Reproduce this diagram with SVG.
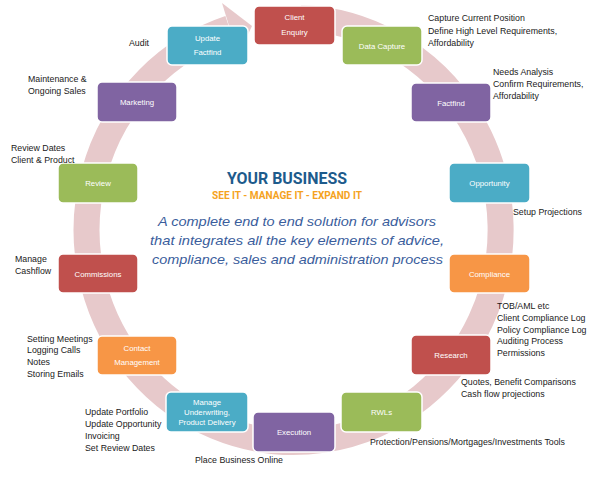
<svg xmlns="http://www.w3.org/2000/svg" width="598" height="477" viewBox="0 0 598 477">
<defs>
<style>
.box{stroke:#ffffff;stroke-width:1.5}
.red{fill:#c0504d}.green{fill:#9bbb59}.purple{fill:#8064a2}.blue{fill:#4bacc6}.orange{fill:#f79646}
.nt{font-family:"Liberation Sans",Arial,sans-serif;font-size:7.8px;fill:#ffffff;text-anchor:middle}
.an{font-family:"Liberation Sans",Arial,sans-serif;font-size:8.8px;fill:#1a1a1a}
.ring{fill:none;stroke:#e7c9cb;stroke-width:26}
</style>
</defs>
<rect width="598" height="477" fill="#ffffff"/>
<g id="connectors">
<path class="ring" d="M300.7,18.1 A207,212 0 1 1 229.5,28.4"/>
<polygon points="222,3 252,26 238,55" fill="#e7c9cb"/>
</g>
<g id="client-enquiry"><rect class="box red" x="254" y="6" width="81" height="39" rx="5"/><text class="nt" x="294.5" y="20">Client</text><text class="nt" x="294.5" y="35">Enquiry</text></g>
<g id="data-capture"><rect class="box green" x="342" y="26" width="80" height="39" rx="5"/><text class="nt" x="382" y="48.5">Data Capture</text></g>
<g id="update-factfind"><rect class="box blue" x="167" y="26" width="81" height="39" rx="5"/><text class="nt" x="207.5" y="41">Update</text><text class="nt" x="207.5" y="55">Factfind</text></g>
<g id="factfind"><rect class="box purple" x="411" y="83" width="80" height="39" rx="5"/><text class="nt" x="451" y="105.5">Factfind</text></g>
<g id="marketing"><rect class="box purple" x="97" y="82" width="80" height="40" rx="5"/><text class="nt" x="137" y="105">Marketing</text></g>
<g id="review"><rect class="box green" x="58" y="163" width="80" height="40" rx="5"/><text class="nt" x="98" y="186">Review</text></g>
<g id="opportunity"><rect class="box blue" x="449" y="163" width="81" height="40" rx="5"/><text class="nt" x="489.5" y="186">Opportunity</text></g>
<g id="compliance"><rect class="box orange" x="449" y="254" width="81" height="39" rx="5"/><text class="nt" x="489.5" y="276.5">Compliance</text></g>
<g id="commissions"><rect class="box red" x="58" y="254" width="80" height="39" rx="5"/><text class="nt" x="98" y="276.5">Commissions</text></g>
<g id="research"><rect class="box red" x="411" y="335" width="80" height="40" rx="5"/><text class="nt" x="451" y="358">Research</text></g>
<g id="contact-management"><rect class="box orange" x="97" y="336" width="80" height="39" rx="5"/><text class="nt" x="137" y="351">Contact</text><text class="nt" x="137" y="365">Management</text></g>
<g id="manage-underwriting"><rect class="box blue" x="166" y="392" width="82" height="40" rx="5"/><text class="nt" x="207" y="405">Manage</text><text class="nt" x="207" y="415">Underwriting,</text><text class="nt" x="207" y="425">Product Delivery</text></g>
<g id="execution"><rect class="box purple" x="253" y="412" width="82" height="40" rx="5"/><text class="nt" x="294" y="435">Execution</text></g>
<g id="rwls"><rect class="box green" x="341" y="392" width="81" height="40" rx="5"/><text class="nt" x="381.5" y="415">RWLs</text></g>
<g id="center-text">
<text x="287" y="184" font-family="Roboto,'Liberation Sans',sans-serif" font-weight="700" font-size="17" fill="#1d5b8c" text-anchor="middle" textLength="120" lengthAdjust="spacingAndGlyphs">YOUR BUSINESS</text>
<text x="287" y="199" font-family="Roboto,'Liberation Sans',sans-serif" font-weight="700" font-size="11" fill="#f5a31e" text-anchor="middle" textLength="150" lengthAdjust="spacingAndGlyphs">SEE IT - MANAGE IT - EXPAND IT</text>
<g font-family="'Liberation Sans',Arial,sans-serif" font-style="italic" font-size="13.5" fill="#3a5d9c">
<text x="158" y="226" textLength="278" lengthAdjust="spacingAndGlyphs">A complete end to end solution for advisors</text>
<text x="150" y="245" textLength="294" lengthAdjust="spacingAndGlyphs">that integrates all the key elements of advice,</text>
<text x="152" y="264" textLength="291" lengthAdjust="spacingAndGlyphs">compliance, sales and administration  process</text>
</g>
</g>
<g id="annotations">
<text class="an" x="428" y="21">Capture Current Position</text>
<text class="an" x="428" y="34">Define High Level Requirements,</text>
<text class="an" x="428" y="46">Affordability</text>
<text class="an" x="493" y="75">Needs Analysis</text>
<text class="an" x="493" y="87">Confirm Requirements,</text>
<text class="an" x="493" y="99">Affordability</text>
<text class="an" x="129" y="46">Audit</text>
<text class="an" x="28" y="82">Maintenance &amp;</text>
<text class="an" x="28" y="94">Ongoing Sales</text>
<text class="an" x="11" y="151">Review Dates</text>
<text class="an" x="11" y="163">Client &amp; Product</text>
<text class="an" x="513" y="215">Setup Projections</text>
<text class="an" x="15" y="262">Manage</text>
<text class="an" x="15" y="274">Cashflow</text>
<text class="an" x="497" y="309">TOB/AML etc</text>
<text class="an" x="497" y="321">Client Compliance Log</text>
<text class="an" x="497" y="333">Policy Compliance Log</text>
<text class="an" x="497" y="344">Auditing Process</text>
<text class="an" x="497" y="356">Permissions</text>
<text class="an" x="27" y="342">Setting Meetings</text>
<text class="an" x="27" y="353">Logging Calls</text>
<text class="an" x="27" y="365">Notes</text>
<text class="an" x="27" y="377">Storing Emails</text>
<text class="an" x="461" y="385">Quotes, Benefit Comparisons</text>
<text class="an" x="461" y="397">Cash flow projections</text>
<text class="an" x="85" y="415">Update Portfolio</text>
<text class="an" x="85" y="427">Update Opportunity</text>
<text class="an" x="85" y="439">Invoicing</text>
<text class="an" x="85" y="451">Set Review Dates</text>
<text class="an" x="370" y="445">Protection/Pensions/Mortgages/Investments  Tools</text>
<text class="an" x="195" y="463">Place Business Online</text>
</g>
</svg>
